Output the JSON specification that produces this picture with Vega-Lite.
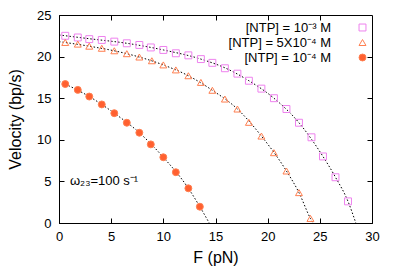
{
  "$schema": "https://vega.github.io/schema/vega-lite/v6.json",
  "width": 313,
  "height": 208,
  "autosize": "none",
  "padding": {"left": 59, "top": 15, "right": 23, "bottom": 53},
  "background": "white",
  "config": {
    "font": "Liberation Sans",
    "view": {"stroke": "black", "strokeWidth": 1},
    "axis": {
      "grid": false,
      "domainColor": "black",
      "tickColor": "black",
      "tickSize": -5,
      "labelFlush": false,
      "labelFontSize": 13,
      "labelColor": "black",
      "titleFontSize": 16,
      "titleFontWeight": "normal",
      "titleColor": "black"
    }
  },
  "datasets": {
    "points": [
      {"series": "[NTP] = 10⁻³ M", "F": 0.6, "V": 22.5},
      {"series": "[NTP] = 10⁻³ M", "F": 1.8, "V": 22.3},
      {"series": "[NTP] = 10⁻³ M", "F": 2.9, "V": 22.1},
      {"series": "[NTP] = 10⁻³ M", "F": 4.1, "V": 22.0},
      {"series": "[NTP] = 10⁻³ M", "F": 5.3, "V": 21.8},
      {"series": "[NTP] = 10⁻³ M", "F": 6.5, "V": 21.6},
      {"series": "[NTP] = 10⁻³ M", "F": 7.7, "V": 21.4},
      {"series": "[NTP] = 10⁻³ M", "F": 8.8, "V": 21.1},
      {"series": "[NTP] = 10⁻³ M", "F": 10.0, "V": 20.8},
      {"series": "[NTP] = 10⁻³ M", "F": 11.2, "V": 20.4},
      {"series": "[NTP] = 10⁻³ M", "F": 12.4, "V": 20.15},
      {"series": "[NTP] = 10⁻³ M", "F": 13.6, "V": 19.7},
      {"series": "[NTP] = 10⁻³ M", "F": 14.7, "V": 19.25},
      {"series": "[NTP] = 10⁻³ M", "F": 15.9, "V": 18.6},
      {"series": "[NTP] = 10⁻³ M", "F": 17.1, "V": 17.95},
      {"series": "[NTP] = 10⁻³ M", "F": 18.2, "V": 17.1},
      {"series": "[NTP] = 10⁻³ M", "F": 19.4, "V": 16.15},
      {"series": "[NTP] = 10⁻³ M", "F": 20.6, "V": 15.0},
      {"series": "[NTP] = 10⁻³ M", "F": 21.8, "V": 13.7},
      {"series": "[NTP] = 10⁻³ M", "F": 23.0, "V": 12.05},
      {"series": "[NTP] = 10⁻³ M", "F": 24.2, "V": 10.3},
      {"series": "[NTP] = 10⁻³ M", "F": 25.3, "V": 8.0},
      {"series": "[NTP] = 10⁻³ M", "F": 26.5, "V": 5.5},
      {"series": "[NTP] = 10⁻³ M", "F": 27.7, "V": 2.6},
      {"series": "[NTP] = 5X10⁻⁴ M", "F": 0.6, "V": 21.7},
      {"series": "[NTP] = 5X10⁻⁴ M", "F": 1.8, "V": 21.5},
      {"series": "[NTP] = 5X10⁻⁴ M", "F": 2.9, "V": 21.25},
      {"series": "[NTP] = 5X10⁻⁴ M", "F": 4.1, "V": 21.0},
      {"series": "[NTP] = 5X10⁻⁴ M", "F": 5.3, "V": 20.7},
      {"series": "[NTP] = 5X10⁻⁴ M", "F": 6.5, "V": 20.35},
      {"series": "[NTP] = 5X10⁻⁴ M", "F": 7.7, "V": 19.95},
      {"series": "[NTP] = 5X10⁻⁴ M", "F": 8.9, "V": 19.5},
      {"series": "[NTP] = 5X10⁻⁴ M", "F": 10.0, "V": 19.0},
      {"series": "[NTP] = 5X10⁻⁴ M", "F": 11.2, "V": 18.4},
      {"series": "[NTP] = 5X10⁻⁴ M", "F": 12.4, "V": 17.7},
      {"series": "[NTP] = 5X10⁻⁴ M", "F": 13.6, "V": 16.9},
      {"series": "[NTP] = 5X10⁻⁴ M", "F": 14.7, "V": 15.95},
      {"series": "[NTP] = 5X10⁻⁴ M", "F": 15.9, "V": 14.9},
      {"series": "[NTP] = 5X10⁻⁴ M", "F": 17.1, "V": 13.7},
      {"series": "[NTP] = 5X10⁻⁴ M", "F": 18.2, "V": 12.1},
      {"series": "[NTP] = 5X10⁻⁴ M", "F": 19.4, "V": 10.45},
      {"series": "[NTP] = 5X10⁻⁴ M", "F": 20.6, "V": 8.45},
      {"series": "[NTP] = 5X10⁻⁴ M", "F": 21.8, "V": 6.25},
      {"series": "[NTP] = 5X10⁻⁴ M", "F": 23.0, "V": 3.65},
      {"series": "[NTP] = 5X10⁻⁴ M", "F": 24.1, "V": 0.55},
      {"series": "[NTP] = 10⁻⁴ M", "F": 0.6, "V": 16.7},
      {"series": "[NTP] = 10⁻⁴ M", "F": 1.8, "V": 16.0},
      {"series": "[NTP] = 10⁻⁴ M", "F": 2.9, "V": 15.2},
      {"series": "[NTP] = 10⁻⁴ M", "F": 4.1, "V": 14.25},
      {"series": "[NTP] = 10⁻⁴ M", "F": 5.3, "V": 13.2},
      {"series": "[NTP] = 10⁻⁴ M", "F": 6.5, "V": 12.05},
      {"series": "[NTP] = 10⁻⁴ M", "F": 7.7, "V": 10.85},
      {"series": "[NTP] = 10⁻⁴ M", "F": 8.8, "V": 9.45},
      {"series": "[NTP] = 10⁻⁴ M", "F": 10.0, "V": 7.9},
      {"series": "[NTP] = 10⁻⁴ M", "F": 11.2, "V": 6.1},
      {"series": "[NTP] = 10⁻⁴ M", "F": 12.4, "V": 4.17},
      {"series": "[NTP] = 10⁻⁴ M", "F": 13.5, "V": 1.96}
    ],
    "fits": [
      {"series": "a", "F": 0, "V": 22.6},
      {"series": "a", "F": 2.9, "V": 22.15},
      {"series": "a", "F": 6.5, "V": 21.6},
      {"series": "a", "F": 10.0, "V": 20.8},
      {"series": "a", "F": 13.6, "V": 19.7},
      {"series": "a", "F": 15.9, "V": 18.65},
      {"series": "a", "F": 18.2, "V": 17.1},
      {"series": "a", "F": 20.6, "V": 15.0},
      {"series": "a", "F": 23.0, "V": 12.05},
      {"series": "a", "F": 25.3, "V": 8.0},
      {"series": "a", "F": 26.5, "V": 5.5},
      {"series": "a", "F": 27.7, "V": 2.6},
      {"series": "a", "F": 28.45, "V": 0},
      {"series": "b", "F": 0, "V": 21.8},
      {"series": "b", "F": 2.9, "V": 21.25},
      {"series": "b", "F": 6.5, "V": 20.35},
      {"series": "b", "F": 10.0, "V": 19.0},
      {"series": "b", "F": 12.4, "V": 17.7},
      {"series": "b", "F": 14.7, "V": 15.95},
      {"series": "b", "F": 17.1, "V": 13.7},
      {"series": "b", "F": 19.4, "V": 10.45},
      {"series": "b", "F": 21.8, "V": 6.25},
      {"series": "b", "F": 23.0, "V": 3.65},
      {"series": "b", "F": 24.1, "V": 0.55},
      {"series": "b", "F": 24.35, "V": 0},
      {"series": "c", "F": 0, "V": 17.05},
      {"series": "c", "F": 2.9, "V": 15.2},
      {"series": "c", "F": 5.3, "V": 13.2},
      {"series": "c", "F": 7.7, "V": 10.85},
      {"series": "c", "F": 10.0, "V": 7.9},
      {"series": "c", "F": 12.4, "V": 4.17},
      {"series": "c", "F": 13.5, "V": 1.96},
      {"series": "c", "F": 14.4, "V": 0}
    ],
    "note": [
      {"label": "ω₂₃=100 s⁻¹", "F": 1.05, "V": 5.0}
    ]
  },
  "resolve": {"axis": {"x": "independent", "y": "independent"}},
  "layer": [
    {
      "data": {"name": "fits"},
      "mark": {"type": "line", "color": "black", "strokeWidth": 1, "strokeDash": [1.5, 2], "interpolate": "monotone", "clip": true},
      "encoding": {
        "x": {"field": "F", "type": "quantitative", "scale": {"domain": [0, 30], "nice": false},
          "axis": {"title": "F (pN)", "values": [0, 5, 10, 15, 20, 25, 30], "labelPadding": 12, "titleY": 34, "titleBaseline": "middle"}},
        "y": {"field": "V", "type": "quantitative", "scale": {"domain": [0, 25], "nice": false},
          "axis": {"title": "Velocity (bp/s)", "values": [0, 5, 10, 15, 20, 25], "labelPadding": 13, "titleX": -44, "titleBaseline": "middle"}},
        "detail": {"field": "series"}
      }
    },
    {
      "data": {"name": "fits"},
      "mark": {"type": "line", "opacity": 0},
      "encoding": {
        "x": {"field": "F", "type": "quantitative", "axis": {"orient": "top", "labels": false, "title": null, "domain": false, "values": [5, 10, 15, 20, 25]}},
        "y": {"field": "V", "type": "quantitative", "axis": {"orient": "right", "labels": false, "title": null, "domain": false, "values": [5, 10, 15, 20]}},
        "detail": {"field": "series"}
      }
    },
    {
      "data": {"name": "points"},
      "mark": {"type": "point", "size": 48, "strokeWidth": 1, "opacity": 1},
      "encoding": {
        "x": {"field": "F", "type": "quantitative", "axis": null},
        "y": {"field": "V", "type": "quantitative", "axis": null},
        "shape": {"field": "series", "type": "nominal",
          "scale": {"domain": ["[NTP] = 10⁻³ M", "[NTP] = 5X10⁻⁴ M", "[NTP] = 10⁻⁴ M"], "range": ["square", "triangle-up", "circle"]},
          "legend": {"title": null, "orient": "none", "legendX": 297, "legendY": 6, "labelAlign": "right", "labelOffset": -38, "labelFontSize": 13, "labelColor": "black", "padding": 0, "rowPadding": 1, "symbolSize": 48, "symbolStrokeWidth": 1}},
        "stroke": {"field": "series", "type": "nominal",
          "scale": {"domain": ["[NTP] = 10⁻³ M", "[NTP] = 5X10⁻⁴ M", "[NTP] = 10⁻⁴ M"], "range": ["#ee82ee", "#ff7f50", "#ff7f50"]},
          "legend": {"title": null}},
        "fill": {"field": "series", "type": "nominal",
          "scale": {"domain": ["[NTP] = 10⁻³ M", "[NTP] = 5X10⁻⁴ M", "[NTP] = 10⁻⁴ M"], "range": ["transparent", "transparent", "#ff6030"]},
          "legend": {"title": null}}
      }
    },
    {
      "data": {"name": "note"},
      "mark": {"type": "text", "align": "left", "baseline": "middle", "fontSize": 13, "color": "black"},
      "encoding": {
        "x": {"field": "F", "type": "quantitative", "axis": null},
        "y": {"field": "V", "type": "quantitative", "axis": null},
        "text": {"field": "label"}
      }
    }
  ]
}
